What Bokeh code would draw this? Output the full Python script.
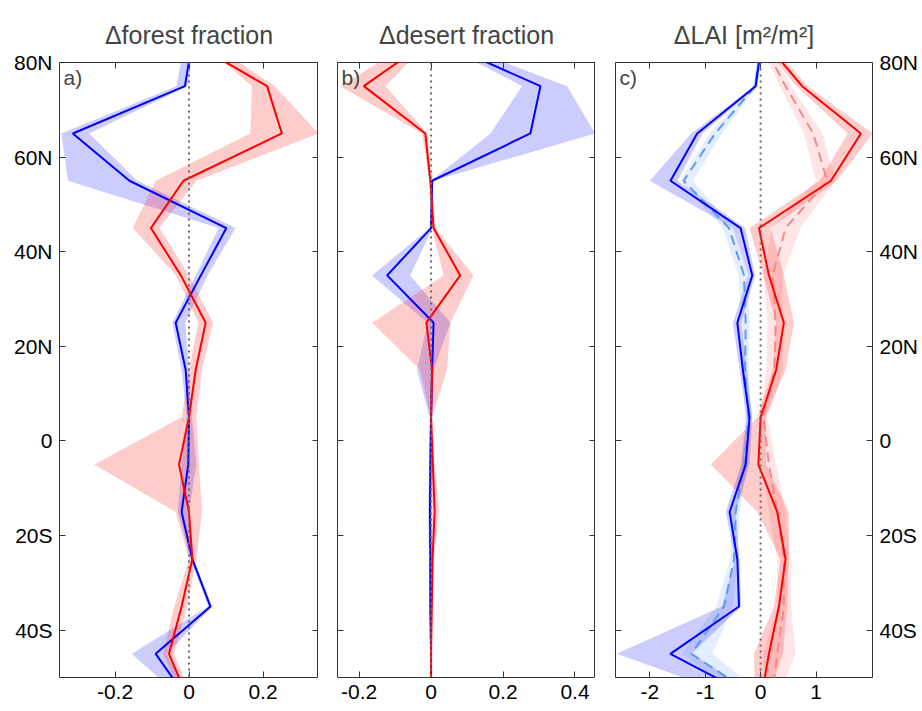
from bokeh.plotting import figure
from bokeh.layouts import row
from bokeh.models import Range1d, LinearAxis, FixedTicker, Span, Label, ColumnDataSource
from bokeh.embed import file_html
from bokeh.resources import INLINE

# ---------------- data ----------------
lats = [85, 75, 65, 55, 45, 35, 25, 15, 5, -5, -15, -25, -35, -45, -55]
lat_ticks = [-40, -20, 0, 20, 40, 60, 80]
lat_labels = ["40S", "20S", "0", "20N", "40N", "60N", "80N"]

titles = ["\u0394forest fraction", "\u0394desert fraction", "\u0394LAI [m\u00b2/m\u00b2]"]
letters = ["a)", "b)", "c)"]

# panel a: forest fraction
forest_blue = [0.01, -0.011, -0.314, -0.161, 0.101, 0.032, -0.036, -0.009, 0.0, -0.002, -0.02, 0.009, 0.058, -0.09, 0.0]
forest_blue_lo = [-0.01, -0.034, -0.345, -0.327, 0.08, 0.018, -0.045, -0.02, -0.006, -0.02, -0.03, 0.004, 0.052, -0.155, -0.01]
forest_blue_hi = [0.015, -0.004, -0.27, -0.14, 0.126, 0.05, -0.01, 0.0, 0.008, 0.02, 0.0, 0.013, 0.063, -0.06, 0.01]
forest_red = [-0.01, 0.211, 0.251, -0.015, -0.103, -0.022, 0.045, 0.018, 0.0, -0.027, 0.0, 0.009, -0.02, -0.054, 0.0]
forest_red_lo = [0.02, 0.17, 0.166, -0.09, -0.152, -0.035, 0.025, 0.0, -0.02, -0.256, -0.036, 0.0, -0.04, -0.07, -0.01]
forest_red_hi = [0.04, 0.232, 0.35, 0.02, -0.08, 0.0, 0.065, 0.035, 0.02, 0.027, 0.035, 0.02, -0.005, -0.04, 0.01]

# panel b: desert fraction
desert_blue = [0.008, 0.304, 0.276, 0.003, 0.0, -0.122, 0.007, 0.003, 0.0, -0.002, -0.003, -0.002, -0.002, 0.0, 0.0]
desert_blue_lo = [0.0, 0.253, 0.165, 0.0, -0.004, -0.164, -0.01, -0.039, -0.004, -0.006, -0.008, -0.006, -0.005, -0.003, -0.003]
desert_blue_hi = [0.03, 0.378, 0.456, 0.006, 0.004, -0.058, 0.054, 0.007, 0.003, 0.002, 0.002, 0.002, 0.001, 0.003, 0.003]
desert_red = [0.0, -0.187, -0.016, -0.002, 0.007, 0.081, -0.013, 0.003, 0.0, 0.005, 0.01, 0.004, 0.002, 0.0, 0.0]
desert_red_lo = [-0.04, -0.252, -0.025, -0.005, 0.002, 0.035, -0.164, -0.03, -0.002, 0.0, 0.003, 0.0, 0.0, -0.002, -0.002]
desert_red_hi = [0.0, -0.127, -0.01, 0.002, 0.012, 0.118, 0.054, 0.044, 0.003, 0.01, 0.022, 0.008, 0.004, 0.002, 0.002]

# panel c: LAI
lai_blue = [0.03, -0.09, -1.145, -1.627, -0.362, -0.15, -0.42, -0.32, -0.2, -0.27, -0.56, -0.42, -0.39, -1.63, 0.0]
lai_blue_lo = [0.0, -0.12, -1.25, -2.0, -0.5, -0.22, -0.5, -0.38, -0.25, -0.35, -0.63, -0.46, -0.7, -2.6, -0.2]
lai_blue_hi = [0.05, -0.06, -1.05, -1.5, -0.28, -0.1, -0.35, -0.25, -0.15, -0.2, -0.45, -0.38, -0.35, -1.25, 0.1]
lai_lblue = [0.03, -0.1, -0.82, -1.39, -0.57, -0.30, -0.27, -0.28, -0.22, -0.3, -0.45, -0.48, -0.66, -1.25, 0.04]
lai_lblue_lo = [0.0, -0.14, -0.92, -1.45, -0.68, -0.4, -0.35, -0.34, -0.28, -0.36, -0.52, -0.55, -0.8, -1.42, -0.2]
lai_lblue_hi = [0.05, -0.06, -0.7, -1.22, -0.5, -0.22, -0.2, -0.22, -0.16, -0.24, -0.38, -0.42, -0.5, -0.87, 0.2]
lai_red = [0.03, 0.75, 1.81, 1.27, -0.03, 0.15, 0.42, 0.28, 0.0, -0.04, 0.30, 0.45, 0.33, 0.15, 0.0]
lai_red_lo = [-0.05, 0.65, 1.57, 1.07, -0.2, 0.05, 0.28, 0.22, -0.06, -0.9, -0.06, 0.36, 0.24, -0.12, -0.1]
lai_red_hi = [0.1, 0.85, 2.02, 1.38, 0.18, 0.42, 0.6, 0.45, 0.09, 0.1, 0.51, 0.51, 0.48, 0.4, 0.1]
lai_lred = [0.0, 0.45, 0.95, 1.2, 0.45, 0.22, 0.27, 0.25, 0.05, 0.15, 0.3, 0.42, 0.42, 0.30, 0.2]
lai_lred_lo = [-0.05, 0.35, 0.78, 1.0, 0.2, 0.05, 0.12, 0.1, -0.02, 0.02, 0.15, 0.3, 0.3, 0.05, 0.05]
lai_lred_hi = [0.05, 0.55, 1.12, 1.35, 0.72, 0.4, 0.4, 0.4, 0.12, 0.28, 0.45, 0.55, 0.55, 0.63, 0.3]

xticks_a = [-0.2, 0, 0.2]
xlabels_a = ["-0.2", "0", "0.2"]
xticks_b = [-0.2, 0, 0.2, 0.4]
xlabels_b = ["-0.2", "0", "0.2", "0.4"]
xticks_c = [-2, -1, 0, 1]
xlabels_c = ["-2", "-1", "0", "1"]

FONT = "Liberation Sans"
AX = "#333333"


def axis(ticks, labels, show):
    ax = LinearAxis(ticker=FixedTicker(ticks=ticks),
                    major_label_overrides={t: (l if show else "") for t, l in zip(ticks, labels)},
                    major_tick_in=6, major_tick_out=0, minor_tick_line_color=None,
                    major_tick_line_color=AX, axis_line_color=None,
                    major_label_text_font=FONT, major_label_text_color="black",
                    major_label_text_font_size="21px" if show else "0px",
                    major_label_standoff=7 if show else 0)
    return ax


def make_panel(title, letter, xr, xticks, xlabels, width, bl, br, left_lab, right_lab):
    p = figure(width=width, height=711, x_range=Range1d(*xr), y_range=Range1d(-50, 80),
               output_backend="svg", toolbar_location=None, tools="",
               x_axis_location=None, y_axis_location=None,
               min_border_left=bl, min_border_right=br, min_border_top=62, min_border_bottom=34)
    for g in p.grid:
        g.visible = False
    p.outline_line_color = AX
    p.outline_line_width = 1
    p.background_fill_color = "white"
    p.border_fill_color = "white"
    p.title.text = title
    p.title.align = "center"
    p.title.text_font = FONT
    p.title.text_font_size = "25px"
    p.title.text_font_style = "normal"
    p.title.standoff = 28
    p.add_layout(axis(xticks, xlabels, True), "below")
    p.add_layout(axis(xticks, xlabels, False), "above")
    p.add_layout(axis(lat_ticks, lat_labels, left_lab), "left")
    p.add_layout(axis(lat_ticks, lat_labels, right_lab), "right")
    p.add_layout(Label(x=xr[0], y=80, x_offset=4, y_offset=-3, text=letter,
                       text_baseline="top", text_font=FONT, text_font_size="21px"))
    return p


def bands_lines(p, src, entries):
    for lo, hi, color, alpha in entries[0]:
        p.harea(x1=lo, x2=hi, y="lat", source=src, fill_color=color, fill_alpha=alpha)
    for col, color, dash in entries[1]:
        p.line(x=col, y="lat", source=src, line_color=color, line_width=2, line_dash=dash)
    p.add_layout(Span(location=0, dimension="height", line_color="#6a6a6a",
                      line_width=2, line_dash="2 4"))


src_a = ColumnDataSource(dict(lat=lats, b=forest_blue, blo=forest_blue_lo, bhi=forest_blue_hi,
                              r=forest_red, rlo=forest_red_lo, rhi=forest_red_hi))
src_b = ColumnDataSource(dict(lat=lats, b=desert_blue, blo=desert_blue_lo, bhi=desert_blue_hi,
                              r=desert_red, rlo=desert_red_lo, rhi=desert_red_hi))
src_c = ColumnDataSource(dict(lat=lats, b=lai_blue, blo=lai_blue_lo, bhi=lai_blue_hi,
                              lb=lai_lblue, lblo=lai_lblue_lo, lbhi=lai_lblue_hi,
                              r=lai_red, rlo=lai_red_lo, rhi=lai_red_hi,
                              lr=lai_lred, lrlo=lai_lred_lo, lrhi=lai_lred_hi))

pa = make_panel(titles[0], letters[0], (-0.35, 0.35), xticks_a, xlabels_a, 318, 59, 0, True, False)
bands_lines(pa, src_a, ([("blo", "bhi", "#0000ff", 0.2), ("rlo", "rhi", "#ff0000", 0.2)],
                        [("b", "#0000ff", "solid"), ("r", "#ff0000", "solid")]))

pb = make_panel(titles[1], letters[1], (-0.26, 0.457), xticks_b, xlabels_b, 277, 19, 0, False, False)
bands_lines(pb, src_b, ([("blo", "bhi", "#0000ff", 0.2), ("rlo", "rhi", "#ff0000", 0.2)],
                        [("b", "#0000ff", "solid"), ("r", "#ff0000", "solid")]))

pc = make_panel(titles[2], letters[2], (-2.62, 2.02), xticks_c, xlabels_c, 327, 20, 50, False, True)
bands_lines(pc, src_c, ([("blo", "bhi", "#0000ff", 0.2), ("lblo", "lbhi", "#3d7ff0", 0.14),
                         ("rlo", "rhi", "#ff0000", 0.2), ("lrlo", "lrhi", "#ff0000", 0.1)],
                        [("lb", "#5b9bf0", "10 6"), ("lr", "#f28a8a", "10 6"),
                         ("b", "#0000ff", "solid"), ("r", "#ff0000", "solid")]))

layout = row(pa, pb, pc)
open("out.html", "w").write(file_html(layout, INLINE))
